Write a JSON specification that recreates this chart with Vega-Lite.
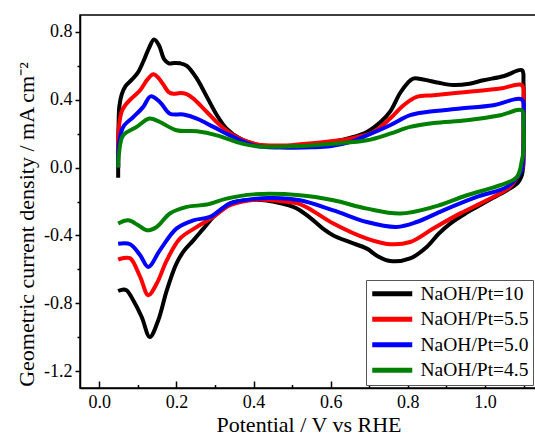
{
  "$schema": "https://vega.github.io/schema/vega-lite/v6.json",
  "width": 457,
  "height": 373,
  "autosize": {"type": "none"},
  "padding": {"left": 80, "top": 15, "right": 0, "bottom": 48},
  "config": {
    "font": "Liberation Serif",
    "view": {"stroke": "black", "strokeWidth": 1.5},
    "axis": {"grid": false, "domainColor": "black", "domainWidth": 1.5, "tickColor": "black", "tickWidth": 1.5, "labelColor": "black", "titleColor": "black", "labelFontSize": 18, "titleFontSize": 22, "titleFontWeight": "normal", "labelFont": "Liberation Serif", "titleFont": "Liberation Serif"}
  },
  "data": {"values": [
{"s":"NaOH/Pt=10","x":0.049,"y":-0.06},{"s":"NaOH/Pt=10","x":0.049,"y":0.10},{"s":"NaOH/Pt=10","x":0.050,"y":0.25},{"s":"NaOH/Pt=10","x":0.052,"y":0.36},{"s":"NaOH/Pt=10","x":0.058,"y":0.43},{"s":"NaOH/Pt=10","x":0.068,"y":0.48},{"s":"NaOH/Pt=10","x":0.085,"y":0.52},{"s":"NaOH/Pt=10","x":0.100,"y":0.56},{"s":"NaOH/Pt=10","x":0.115,"y":0.63},{"s":"NaOH/Pt=10","x":0.128,"y":0.70},{"s":"NaOH/Pt=10","x":0.142,"y":0.755},{"s":"NaOH/Pt=10","x":0.155,"y":0.72},{"s":"NaOH/Pt=10","x":0.168,"y":0.64},{"s":"NaOH/Pt=10","x":0.180,"y":0.615},{"s":"NaOH/Pt=10","x":0.195,"y":0.617},{"s":"NaOH/Pt=10","x":0.210,"y":0.615},{"s":"NaOH/Pt=10","x":0.227,"y":0.60},{"s":"NaOH/Pt=10","x":0.253,"y":0.525},{"s":"NaOH/Pt=10","x":0.279,"y":0.417},{"s":"NaOH/Pt=10","x":0.305,"y":0.309},{"s":"NaOH/Pt=10","x":0.330,"y":0.23},{"s":"NaOH/Pt=10","x":0.365,"y":0.171},{"s":"NaOH/Pt=10","x":0.408,"y":0.137},{"s":"NaOH/Pt=10","x":0.45,"y":0.125},{"s":"NaOH/Pt=10","x":0.50,"y":0.125},{"s":"NaOH/Pt=10","x":0.55,"y":0.13},{"s":"NaOH/Pt=10","x":0.60,"y":0.15},{"s":"NaOH/Pt=10","x":0.65,"y":0.175},{"s":"NaOH/Pt=10","x":0.694,"y":0.21},{"s":"NaOH/Pt=10","x":0.73,"y":0.27},{"s":"NaOH/Pt=10","x":0.754,"y":0.33},{"s":"NaOH/Pt=10","x":0.78,"y":0.44},{"s":"NaOH/Pt=10","x":0.80,"y":0.50},{"s":"NaOH/Pt=10","x":0.814,"y":0.525},{"s":"NaOH/Pt=10","x":0.84,"y":0.52},{"s":"NaOH/Pt=10","x":0.88,"y":0.50},{"s":"NaOH/Pt=10","x":0.918,"y":0.487},{"s":"NaOH/Pt=10","x":0.96,"y":0.495},{"s":"NaOH/Pt=10","x":0.996,"y":0.515},{"s":"NaOH/Pt=10","x":1.05,"y":0.54},{"s":"NaOH/Pt=10","x":1.096,"y":0.574},{"s":"NaOH/Pt=10","x":1.10,"y":0.50},{"s":"NaOH/Pt=10","x":1.10,"y":0.2},{"s":"NaOH/Pt=10","x":1.099,"y":0.0},{"s":"NaOH/Pt=10","x":1.095,"y":-0.05},{"s":"NaOH/Pt=10","x":1.085,"y":-0.09},{"s":"NaOH/Pt=10","x":1.057,"y":-0.134},{"s":"NaOH/Pt=10","x":1.02,"y":-0.18},{"s":"NaOH/Pt=10","x":0.979,"y":-0.232},{"s":"NaOH/Pt=10","x":0.95,"y":-0.27},{"s":"NaOH/Pt=10","x":0.91,"y":-0.33},{"s":"NaOH/Pt=10","x":0.88,"y":-0.39},{"s":"NaOH/Pt=10","x":0.849,"y":-0.468},{"s":"NaOH/Pt=10","x":0.806,"y":-0.536},{"s":"NaOH/Pt=10","x":0.754,"y":-0.551},{"s":"NaOH/Pt=10","x":0.72,"y":-0.52},{"s":"NaOH/Pt=10","x":0.694,"y":-0.478},{"s":"NaOH/Pt=10","x":0.65,"y":-0.44},{"s":"NaOH/Pt=10","x":0.607,"y":-0.40},{"s":"NaOH/Pt=10","x":0.58,"y":-0.36},{"s":"NaOH/Pt=10","x":0.555,"y":-0.311},{"s":"NaOH/Pt=10","x":0.52,"y":-0.252},{"s":"NaOH/Pt=10","x":0.503,"y":-0.232},{"s":"NaOH/Pt=10","x":0.45,"y":-0.20},{"s":"NaOH/Pt=10","x":0.408,"y":-0.19},{"s":"NaOH/Pt=10","x":0.37,"y":-0.195},{"s":"NaOH/Pt=10","x":0.339,"y":-0.211},{"s":"NaOH/Pt=10","x":0.296,"y":-0.291},{"s":"NaOH/Pt=10","x":0.27,"y":-0.36},{"s":"NaOH/Pt=10","x":0.244,"y":-0.429},{"s":"NaOH/Pt=10","x":0.22,"y":-0.49},{"s":"NaOH/Pt=10","x":0.200,"y":-0.566},{"s":"NaOH/Pt=10","x":0.175,"y":-0.724},{"s":"NaOH/Pt=10","x":0.153,"y":-0.90},{"s":"NaOH/Pt=10","x":0.131,"y":-0.999},{"s":"NaOH/Pt=10","x":0.11,"y":-0.881},{"s":"NaOH/Pt=10","x":0.088,"y":-0.783},{"s":"NaOH/Pt=10","x":0.071,"y":-0.724},{"s":"NaOH/Pt=10","x":0.06,"y":-0.72},{"s":"NaOH/Pt=10","x":0.049,"y":-0.728},
{"s":"NaOH/Pt=5.5","x":0.049,"y":0.0},{"s":"NaOH/Pt=5.5","x":0.049,"y":0.12},{"s":"NaOH/Pt=5.5","x":0.050,"y":0.22},{"s":"NaOH/Pt=5.5","x":0.058,"y":0.33},{"s":"NaOH/Pt=5.5","x":0.068,"y":0.37},{"s":"NaOH/Pt=5.5","x":0.080,"y":0.40},{"s":"NaOH/Pt=5.5","x":0.106,"y":0.456},{"s":"NaOH/Pt=5.5","x":0.125,"y":0.52},{"s":"NaOH/Pt=5.5","x":0.14,"y":0.55},{"s":"NaOH/Pt=5.5","x":0.153,"y":0.53},{"s":"NaOH/Pt=5.5","x":0.166,"y":0.49},{"s":"NaOH/Pt=5.5","x":0.18,"y":0.445},{"s":"NaOH/Pt=5.5","x":0.192,"y":0.435},{"s":"NaOH/Pt=5.5","x":0.21,"y":0.44},{"s":"NaOH/Pt=5.5","x":0.225,"y":0.435},{"s":"NaOH/Pt=5.5","x":0.244,"y":0.407},{"s":"NaOH/Pt=5.5","x":0.279,"y":0.328},{"s":"NaOH/Pt=5.5","x":0.313,"y":0.25},{"s":"NaOH/Pt=5.5","x":0.356,"y":0.18},{"s":"NaOH/Pt=5.5","x":0.408,"y":0.137},{"s":"NaOH/Pt=5.5","x":0.486,"y":0.131},{"s":"NaOH/Pt=5.5","x":0.52,"y":0.137},{"s":"NaOH/Pt=5.5","x":0.60,"y":0.155},{"s":"NaOH/Pt=5.5","x":0.65,"y":0.171},{"s":"NaOH/Pt=5.5","x":0.711,"y":0.21},{"s":"NaOH/Pt=5.5","x":0.754,"y":0.289},{"s":"NaOH/Pt=5.5","x":0.789,"y":0.368},{"s":"NaOH/Pt=5.5","x":0.823,"y":0.417},{"s":"NaOH/Pt=5.5","x":0.867,"y":0.427},{"s":"NaOH/Pt=5.5","x":0.953,"y":0.446},{"s":"NaOH/Pt=5.5","x":1.04,"y":0.466},{"s":"NaOH/Pt=5.5","x":1.096,"y":0.486},{"s":"NaOH/Pt=5.5","x":1.10,"y":0.40},{"s":"NaOH/Pt=5.5","x":1.10,"y":0.15},{"s":"NaOH/Pt=5.5","x":1.098,"y":0.0},{"s":"NaOH/Pt=5.5","x":1.091,"y":-0.03},{"s":"NaOH/Pt=5.5","x":1.065,"y":-0.114},{"s":"NaOH/Pt=5.5","x":1.005,"y":-0.193},{"s":"NaOH/Pt=5.5","x":0.936,"y":-0.27},{"s":"NaOH/Pt=5.5","x":0.866,"y":-0.359},{"s":"NaOH/Pt=5.5","x":0.806,"y":-0.439},{"s":"NaOH/Pt=5.5","x":0.754,"y":-0.452},{"s":"NaOH/Pt=5.5","x":0.694,"y":-0.419},{"s":"NaOH/Pt=5.5","x":0.607,"y":-0.33},{"s":"NaOH/Pt=5.5","x":0.55,"y":-0.25},{"s":"NaOH/Pt=5.5","x":0.52,"y":-0.215},{"s":"NaOH/Pt=5.5","x":0.48,"y":-0.20},{"s":"NaOH/Pt=5.5","x":0.408,"y":-0.189},{"s":"NaOH/Pt=5.5","x":0.339,"y":-0.222},{"s":"NaOH/Pt=5.5","x":0.296,"y":-0.291},{"s":"NaOH/Pt=5.5","x":0.253,"y":-0.35},{"s":"NaOH/Pt=5.5","x":0.209,"y":-0.419},{"s":"NaOH/Pt=5.5","x":0.175,"y":-0.547},{"s":"NaOH/Pt=5.5","x":0.149,"y":-0.684},{"s":"NaOH/Pt=5.5","x":0.127,"y":-0.753},{"s":"NaOH/Pt=5.5","x":0.106,"y":-0.645},{"s":"NaOH/Pt=5.5","x":0.08,"y":-0.535},{"s":"NaOH/Pt=5.5","x":0.06,"y":-0.535},{"s":"NaOH/Pt=5.5","x":0.049,"y":-0.543},
{"s":"NaOH/Pt=5.0","x":0.049,"y":0.0},{"s":"NaOH/Pt=5.0","x":0.051,"y":0.141},{"s":"NaOH/Pt=5.0","x":0.062,"y":0.24},{"s":"NaOH/Pt=5.0","x":0.088,"y":0.298},{"s":"NaOH/Pt=5.0","x":0.114,"y":0.358},{"s":"NaOH/Pt=5.0","x":0.133,"y":0.42},{"s":"NaOH/Pt=5.0","x":0.157,"y":0.387},{"s":"NaOH/Pt=5.0","x":0.183,"y":0.318},{"s":"NaOH/Pt=5.0","x":0.218,"y":0.313},{"s":"NaOH/Pt=5.0","x":0.253,"y":0.289},{"s":"NaOH/Pt=5.0","x":0.296,"y":0.24},{"s":"NaOH/Pt=5.0","x":0.339,"y":0.19},{"s":"NaOH/Pt=5.0","x":0.40,"y":0.131},{"s":"NaOH/Pt=5.0","x":0.469,"y":0.118},{"s":"NaOH/Pt=5.0","x":0.55,"y":0.12},{"s":"NaOH/Pt=5.0","x":0.598,"y":0.126},{"s":"NaOH/Pt=5.0","x":0.65,"y":0.15},{"s":"NaOH/Pt=5.0","x":0.694,"y":0.19},{"s":"NaOH/Pt=5.0","x":0.754,"y":0.25},{"s":"NaOH/Pt=5.0","x":0.806,"y":0.309},{"s":"NaOH/Pt=5.0","x":0.849,"y":0.328},{"s":"NaOH/Pt=5.0","x":0.936,"y":0.348},{"s":"NaOH/Pt=5.0","x":1.022,"y":0.368},{"s":"NaOH/Pt=5.0","x":1.096,"y":0.401},{"s":"NaOH/Pt=5.0","x":1.10,"y":0.3},{"s":"NaOH/Pt=5.0","x":1.10,"y":0.1},{"s":"NaOH/Pt=5.0","x":1.097,"y":0.0},{"s":"NaOH/Pt=5.0","x":1.091,"y":-0.035},{"s":"NaOH/Pt=5.0","x":1.057,"y":-0.114},{"s":"NaOH/Pt=5.0","x":0.979,"y":-0.173},{"s":"NaOH/Pt=5.0","x":0.892,"y":-0.252},{"s":"NaOH/Pt=5.0","x":0.823,"y":-0.321},{"s":"NaOH/Pt=5.0","x":0.771,"y":-0.35},{"s":"NaOH/Pt=5.0","x":0.694,"y":-0.321},{"s":"NaOH/Pt=5.0","x":0.607,"y":-0.252},{"s":"NaOH/Pt=5.0","x":0.52,"y":-0.193},{"s":"NaOH/Pt=5.0","x":0.45,"y":-0.18},{"s":"NaOH/Pt=5.0","x":0.408,"y":-0.183},{"s":"NaOH/Pt=5.0","x":0.339,"y":-0.212},{"s":"NaOH/Pt=5.0","x":0.287,"y":-0.291},{"s":"NaOH/Pt=5.0","x":0.244,"y":-0.311},{"s":"NaOH/Pt=5.0","x":0.2,"y":-0.36},{"s":"NaOH/Pt=5.0","x":0.157,"y":-0.488},{"s":"NaOH/Pt=5.0","x":0.127,"y":-0.586},{"s":"NaOH/Pt=5.0","x":0.106,"y":-0.517},{"s":"NaOH/Pt=5.0","x":0.08,"y":-0.452},{"s":"NaOH/Pt=5.0","x":0.049,"y":-0.449},
{"s":"NaOH/Pt=4.5","x":0.049,"y":0.0},{"s":"NaOH/Pt=4.5","x":0.051,"y":0.083},{"s":"NaOH/Pt=4.5","x":0.062,"y":0.19},{"s":"NaOH/Pt=4.5","x":0.097,"y":0.24},{"s":"NaOH/Pt=4.5","x":0.13,"y":0.289},{"s":"NaOH/Pt=4.5","x":0.157,"y":0.269},{"s":"NaOH/Pt=4.5","x":0.2,"y":0.22},{"s":"NaOH/Pt=4.5","x":0.253,"y":0.214},{"s":"NaOH/Pt=4.5","x":0.305,"y":0.19},{"s":"NaOH/Pt=4.5","x":0.356,"y":0.151},{"s":"NaOH/Pt=4.5","x":0.408,"y":0.126},{"s":"NaOH/Pt=4.5","x":0.512,"y":0.126},{"s":"NaOH/Pt=4.5","x":0.607,"y":0.141},{"s":"NaOH/Pt=4.5","x":0.694,"y":0.161},{"s":"NaOH/Pt=4.5","x":0.754,"y":0.2},{"s":"NaOH/Pt=4.5","x":0.806,"y":0.24},{"s":"NaOH/Pt=4.5","x":0.867,"y":0.263},{"s":"NaOH/Pt=4.5","x":0.953,"y":0.279},{"s":"NaOH/Pt=4.5","x":1.04,"y":0.309},{"s":"NaOH/Pt=4.5","x":1.096,"y":0.338},{"s":"NaOH/Pt=4.5","x":1.10,"y":0.25},{"s":"NaOH/Pt=4.5","x":1.10,"y":0.1},{"s":"NaOH/Pt=4.5","x":1.096,"y":0.043},{"s":"NaOH/Pt=4.5","x":1.083,"y":-0.055},{"s":"NaOH/Pt=4.5","x":1.04,"y":-0.104},{"s":"NaOH/Pt=4.5","x":0.953,"y":-0.163},{"s":"NaOH/Pt=4.5","x":0.867,"y":-0.232},{"s":"NaOH/Pt=4.5","x":0.78,"y":-0.271},{"s":"NaOH/Pt=4.5","x":0.694,"y":-0.242},{"s":"NaOH/Pt=4.5","x":0.607,"y":-0.193},{"s":"NaOH/Pt=4.5","x":0.52,"y":-0.163},{"s":"NaOH/Pt=4.5","x":0.4,"y":-0.158},{"s":"NaOH/Pt=4.5","x":0.33,"y":-0.183},{"s":"NaOH/Pt=4.5","x":0.279,"y":-0.218},{"s":"NaOH/Pt=4.5","x":0.227,"y":-0.232},{"s":"NaOH/Pt=4.5","x":0.183,"y":-0.271},{"s":"NaOH/Pt=4.5","x":0.149,"y":-0.35},{"s":"NaOH/Pt=4.5","x":0.123,"y":-0.37},{"s":"NaOH/Pt=4.5","x":0.101,"y":-0.34},{"s":"NaOH/Pt=4.5","x":0.075,"y":-0.311},{"s":"NaOH/Pt=4.5","x":0.049,"y":-0.33}
  ]},
  "transform": [{"window": [{"op": "row_number", "as": "i"}]}],
  "resolve": {"axis": {"x": "independent", "y": "independent"}},
  "layer": [
    {
      "mark": {"type": "line", "strokeWidth": 4, "interpolate": "catmull-rom", "clip": true},
      "encoding": {
        "x": {"field": "x", "type": "quantitative", "scale": {"domain": [-0.05, 1.135], "nice": false, "zero": false},
          "axis": {"orient": "bottom", "values": [0, 0.2, 0.4, 0.6, 0.8, 1.0], "format": ".1f", "tickSize": -7, "labelPadding": 12, "title": "Potential / V vs RHE", "titlePadding": 3}},
        "y": {"field": "y", "type": "quantitative", "scale": {"domain": [-1.3, 0.9], "nice": false, "zero": false},
          "axis": {"orient": "left", "values": [-1.2, -0.8, -0.4, 0, 0.4, 0.8], "labelExpr": "replace(format(datum.value, '.1f'), '\u2212', '-')", "tickSize": 5, "labelPadding": 3, "title": "Geometric current density / mA cm\u207b\u00b2", "titlePadding": 5, "titleY": 209}},
        "color": {"field": "s", "type": "nominal", "sort": null,
          "scale": {"domain": ["NaOH/Pt=10", "NaOH/Pt=5.5", "NaOH/Pt=5.0", "NaOH/Pt=4.5"], "range": ["#000000", "#ff0000", "#0000ff", "#008000"]},
          "legend": {"title": null, "orient": "none", "legendX": 286, "legendY": 265, "strokeColor": "#555555", "fillColor": "white", "padding": 4, "symbolType": "M-1.5,0H6.5", "symbolStrokeWidth": 5, "symbolSize": 100, "labelFontSize": 19.5, "labelFont": "Liberation Serif", "labelColor": "black", "labelOffset": 31, "rowPadding": 4.5}},
        "order": {"field": "i", "type": "quantitative"}
      }
    },
    {
      "mark": {"type": "point", "opacity": 0},
      "encoding": {
        "x": {"field": "x", "type": "quantitative",
          "axis": {"orient": "bottom", "values": [0.1, 0.3, 0.5, 0.7, 0.9, 1.1], "labels": false, "domain": false, "tickSize": -3.5, "title": null}},
        "y": {"field": "y", "type": "quantitative",
          "axis": {"orient": "left", "values": [-1.0, -0.6, -0.2, 0.2, 0.6], "labels": false, "domain": false, "tickSize": 3, "title": null}}
      }
    }
  ]
}
